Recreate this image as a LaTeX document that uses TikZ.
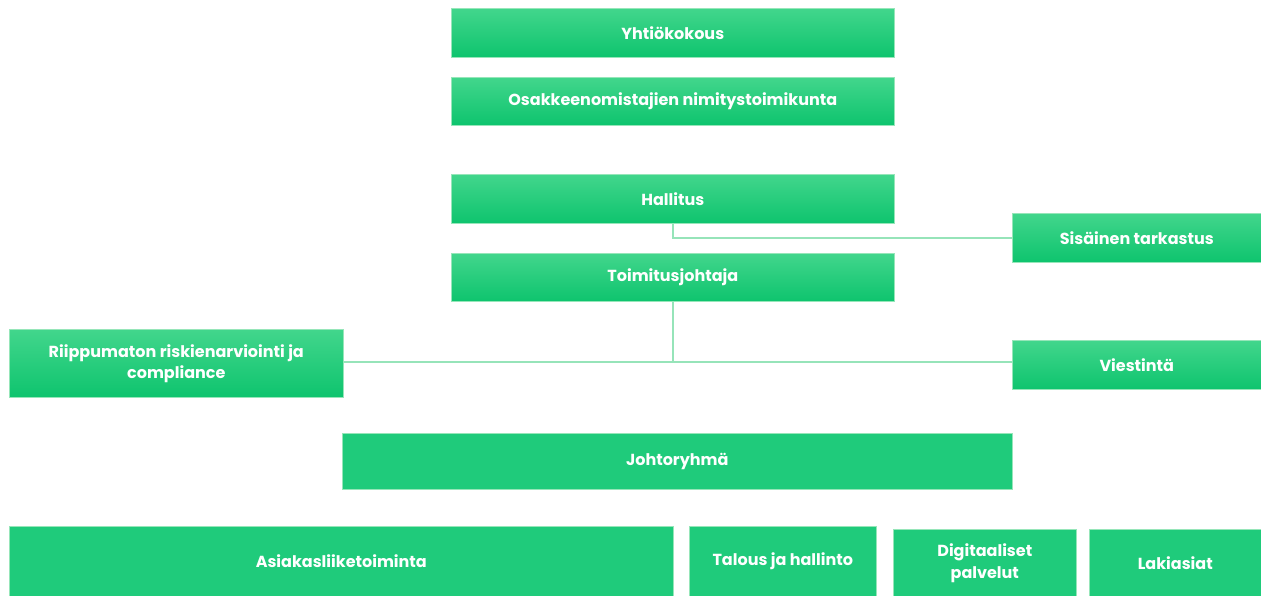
\documentclass[tikz,border=0pt]{standalone}
\usepackage{fontspec}
\setmainfont{Poppins}
\definecolor{gtop}{RGB}{66,214,140}
\definecolor{gbot}{RGB}{14,196,110}
\definecolor{gflat}{RGB}{31,203,123}
\definecolor{gedge}{RGB}{150,230,185}
\definecolor{conn}{RGB}{150,228,185}
\tikzset{
  gbox/.style={anchor=north west, inner sep=0pt, top color=gtop, bottom color=gbot, draw=gedge, line width=0.6pt,
    text=white, font=\bfseries\fontsize{16}{21}\selectfont, align=center},
  fbox/.style={anchor=north west, inner sep=0pt, fill=gflat, draw=gedge, line width=0.6pt,
    text=white, font=\bfseries\fontsize{16}{22}\selectfont, align=center},
  conn/.style={draw=conn, line width=1.6pt}
}
\begin{document}
\begin{tikzpicture}[x=1pt,y=-1pt]
\useasboundingbox (0,0) rectangle (1261,595);
\node[gbox, minimum width=443pt, minimum height=49pt] (yk) at (451,8) {Yhtiökokous};
\node[gbox, minimum width=443pt, minimum height=48pt] (ont) at (451,77) {Osakkeenomistajien nimitystoimikunta};
\node[gbox, minimum width=443pt, minimum height=49pt] (hal) at (451,174) {Hallitus};
\node[gbox, minimum width=249pt, minimum height=49pt] (sis) at (1012,213) {Sisäinen tarkastus};
\node[gbox, minimum width=443pt, minimum height=48pt] (tj) at (451,253) {Toimitusjohtaja};
\node[gbox, minimum width=334pt, minimum height=68pt] (rii) at (9,329) {Riippumaton riskienarviointi ja\\compliance};
\node[gbox, minimum width=249pt, minimum height=49pt] (vie) at (1012,340) {Viestintä};
\node[fbox, minimum width=670pt, minimum height=56pt] (jr) at (342,433) {Johtoryhmä};
\node[fbox, minimum width=664pt, minimum height=70pt] (as) at (9,526) {Asiakasliiketoiminta};
\node[fbox, minimum width=187pt, minimum height=70pt] (tal) at (689,526) {Talous ja hallinto};
\node[fbox, minimum width=183pt, minimum height=67pt] (dig) at (893,529) {Digitaaliset\\palvelut};
\node[fbox, minimum width=172pt, minimum height=67pt] (lak) at (1089,529) {Lakiasiat};
\coordinate (h1) at (673,238);
\coordinate (t1) at (673,362);
\draw[conn] (hal.south -| h1) -- (h1) -- (h1 -| sis.west);
\draw[conn] (tj.south -| t1) -- (t1) -- (t1 -| vie.west);
\draw[conn] (t1) -- (t1 -| rii.east);
\end{tikzpicture}
\end{document}
